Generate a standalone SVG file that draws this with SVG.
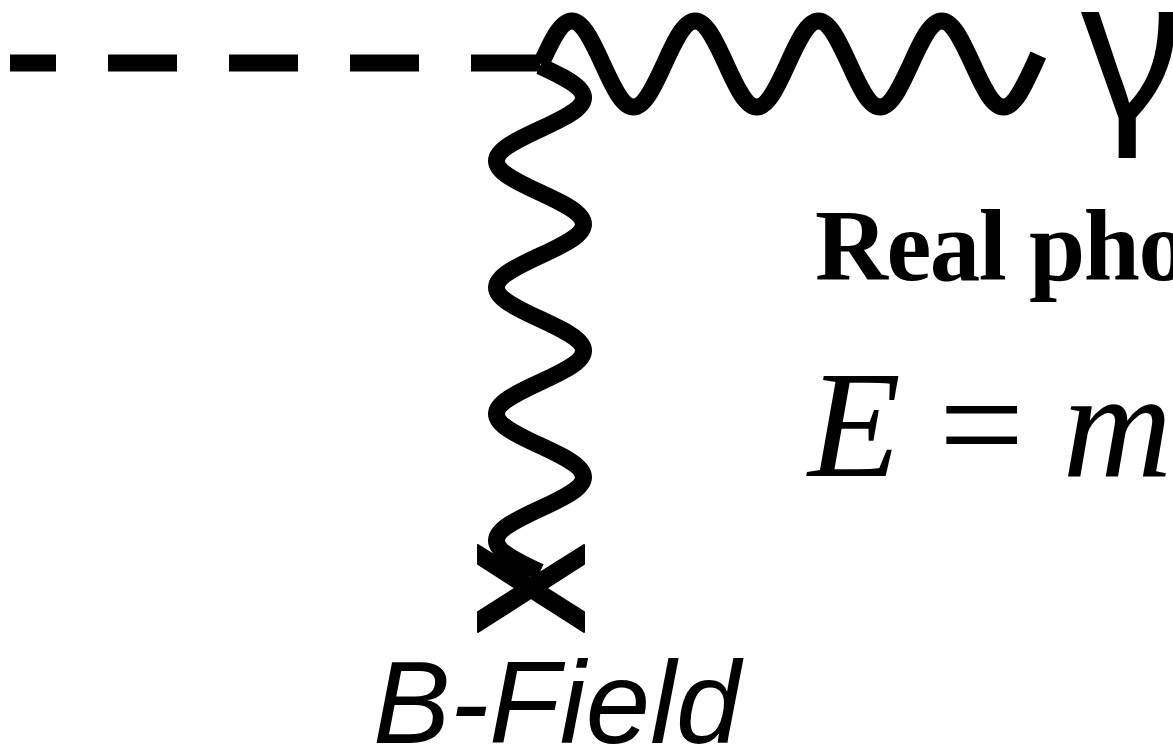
<svg xmlns="http://www.w3.org/2000/svg" width="1173" height="750" viewBox="0 0 1173 750">
<style>
.ln{fill:none;stroke:#000;stroke-width:17}
.dash{stroke-dasharray:69 52}
.xarm{fill:#000;stroke:#000;stroke-width:2;stroke-linejoin:round}
.gam{font-family:"Noto Sans","DejaVu Sans",sans-serif;font-size:195px;fill:#000}
.lbl{font-family:"Liberation Serif","Times New Roman",serif;font-weight:bold;font-size:101px;letter-spacing:-1.5px;fill:#000}
.math{font-family:"Liberation Serif","Times New Roman",serif;font-size:152px;fill:#000}
.bf{font-family:"Liberation Sans",Arial,sans-serif;font-style:italic;font-size:116px;fill:#000}
</style>
<rect width="1173" height="750" fill="#fff"/>
<g id="connectors">
<path id="scalar" class="ln dash" d="M540 63 L10 63"/>
<path id="photon" class="ln" d="M541 64 c10.05 -22.29 19.67 -43 30.83 -43 c11.16 0 20.78 21 30.83 43 c10.05 22.29 19.67 43 30.83 43 c11.16 0 20.78 -21 30.83 -43 c10.05 -22.29 19.67 -43 30.83 -43 c11.16 0 20.78 21 30.83 43 c10.05 22.29 19.67 43 30.83 43 c11.16 0 20.78 -21 30.83 -43 c10.05 -22.29 19.67 -43 30.83 -43 c11.16 0 20.78 21 30.83 43 c10.05 22.29 19.67 43 30.83 43 c11.16 0 20.78 -21 30.83 -43 c10.05 -22.29 19.67 -43 30.83 -43 c11.16 0 20.78 21 30.83 43 c10.05 22.29 19.67 43 30.83 43 c11.16 0 20.78 -21 30.83 -43 l4 -9"/>
<path id="bfield" class="ln" d="M540 66 c22.29 10.31 43.5 20.18 43.5 31.63 c0 11.45 -21.21 21.32 -43.5 31.63 c-22.29 10.31 -43.5 20.18 -43.5 31.63 c0 11.45 21.21 21.32 43.5 31.63 c22.29 10.31 43.5 20.18 43.5 31.63 c0 11.45 -21.21 21.32 -43.5 31.63 c-22.29 10.31 -43.5 20.18 -43.5 31.63 c0 11.45 21.21 21.32 43.5 31.63 c22.29 10.31 43.5 20.18 43.5 31.63 c0 11.45 -21.21 21.32 -43.5 31.63 c-22.29 10.31 -43.5 20.18 -43.5 31.63 c0 11.45 21.21 21.32 43.5 31.63 c22.29 10.31 43.5 20.18 43.5 31.63 c0 11.45 -21.21 21.32 -43.5 31.63 c-22.29 10.31 -43.5 20.18 -43.5 31.63 c0 11.45 21.21 21.32 43.5 31.63"/>
</g>
<g id="source-x">
<polygon class="xarm" points="478,545 584,612 584,632 478,564"/>
<polygon class="xarm" points="584,545 478,612 478,632 584,564"/>
</g>
<g id="gamma-label">
<text class="gam" x="1081" y="117">γ</text>
</g>
<g id="real-photon-label">
<text class="lbl" x="815" y="280">Real pho</text>
</g>
<g id="energy-label">
<text class="math" x="808" y="476"><tspan font-style="italic">E</tspan> = <tspan font-style="italic">m</tspan></text>
</g>
<g id="bfield-label">
<text class="bf" x="373" y="743">B-Field</text>
</g>
</svg>
